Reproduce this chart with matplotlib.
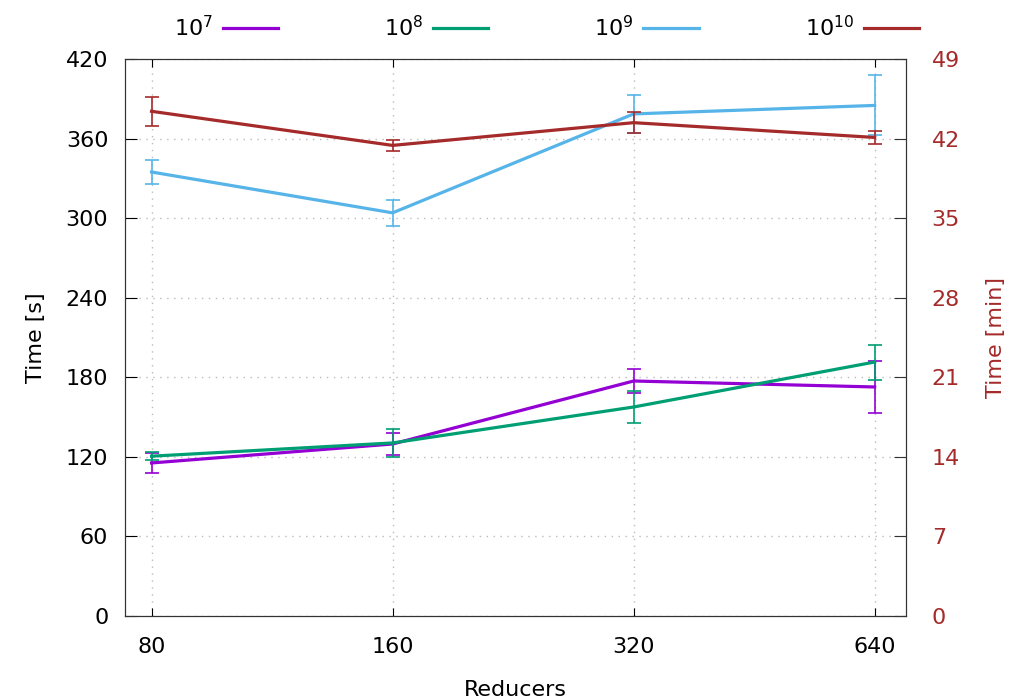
import matplotlib
matplotlib.use("Agg")
import matplotlib.pyplot as plt
import numpy as np

plt.rcParams['font.family'] = 'DejaVu Sans'
plt.rcParams['mathtext.default'] = 'regular'
plt.rcParams['font.size'] = 16

reducers = [80, 160, 320, 640]
# seconds (left axis)
t7 = [115.4, 129.7, 177.2, 172.7]
e7 = [7.5, 8.5, 9.0, 19.6]
t8 = [120.5, 130.5, 157.6, 191.5]
e8 = [3.0, 10.5, 11.7, 13.2]
t9 = [334.8, 304.0, 378.6, 385.0]
e9 = [9.4, 10.0, 14.3, 22.6]
# minutes (right axis)
t10 = [44.4, 41.4, 43.4, 42.1]
e10 = [1.28, 0.5, 0.95, 0.6]

c7, c8, c9, c10 = '#9400d3', '#009e73', '#56b4e9', '#a52a2a'
x = np.arange(len(reducers))

fig = plt.figure(figsize=(10.1, 7), dpi=100)
ax = fig.add_axes([0.1238, 0.12, 0.7732, 0.7957])
ax2 = ax.twinx()

handles = []
for a, y, e, c, lab in [(ax, t7, e7, c7, '$10^7$'), (ax, t8, e8, c8, '$10^8$'),
                        (ax, t9, e9, c9, '$10^9$'), (ax2, t10, e10, c10, '$10^{10}$')]:
    a.errorbar(x, y, yerr=e, fmt='none', ecolor=c, elinewidth=1.2, capsize=5, capthick=1.2)
    l, = a.plot(x, y, color=c, lw=2.3, label=lab)
    handles.append(l)

ax.set_xlim(-0.11, 3.13)
ax.set_ylim(0, 420)
ax2.set_ylim(0, 49)
ax.set_xticks(x)
ax.set_xticklabels([str(r) for r in reducers])
ax.set_yticks(np.arange(0, 421, 60))
ax2.set_yticks(np.arange(0, 50, 7))

ax.grid(True, color='#bbbbbb', linestyle=(0, (1, 4)), lw=1)
ax.tick_params(axis='y', direction='in', length=8.5, pad=12, left=True, right=False)
ax.tick_params(axis='x', direction='in', length=6, pad=15, top=True)
ax2.tick_params(axis='y', direction='in', length=8.5, pad=18.5, colors='#333333', labelcolor=c10)
for sp in ax.spines.values():
    sp.set_color('#333333')
for sp in ax2.spines.values():
    sp.set_color('#333333')

ax.set_xlabel('Reducers', labelpad=17)
ax.set_ylabel('Time [s]', labelpad=14)
ax2.set_ylabel('Time [min]', color=c10, labelpad=19)

fig.legend(handles=handles, loc='center', bbox_to_anchor=(0.541, 0.961), ncol=4,
           frameon=False, markerfirst=False, handlelength=2.5, handletextpad=0.45,
           columnspacing=4.75)

fig.savefig('out.png', dpi=100)
